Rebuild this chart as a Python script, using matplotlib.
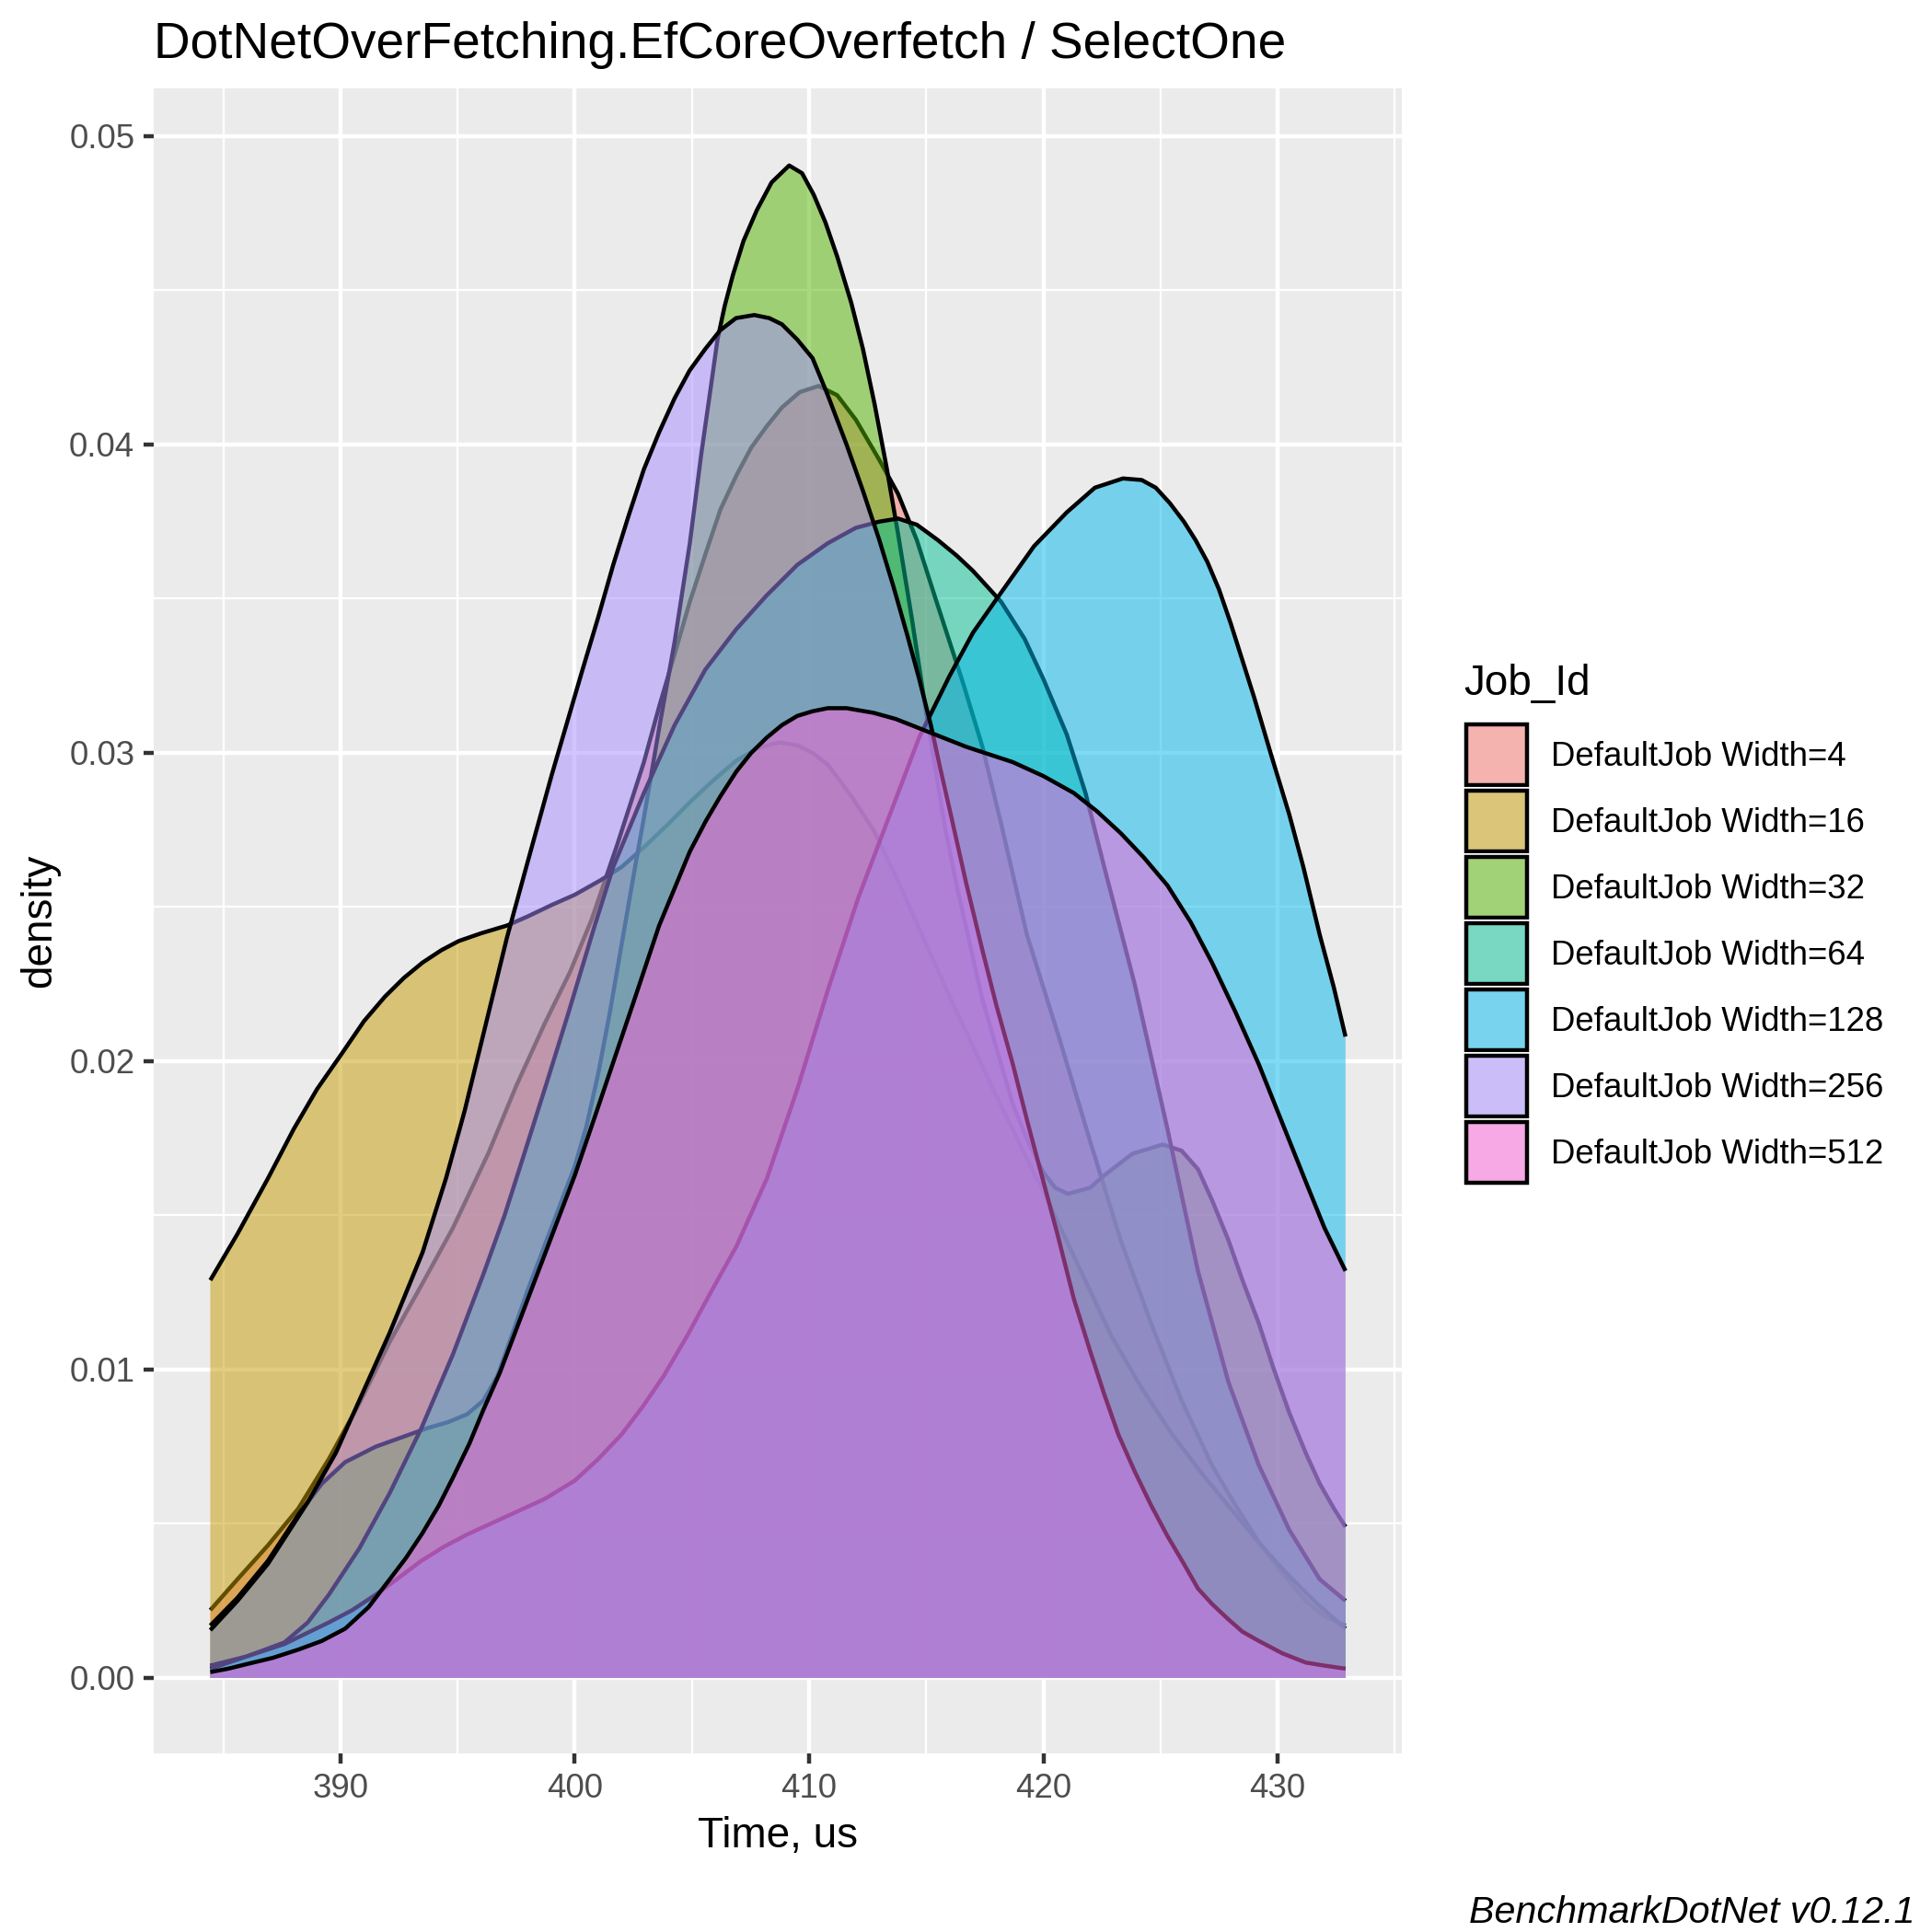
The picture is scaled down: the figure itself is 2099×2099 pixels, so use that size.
import matplotlib
matplotlib.use("Agg")
import matplotlib.pyplot as plt
from matplotlib.patches import Rectangle
from matplotlib.colors import to_rgba

plt.rcParams['font.family'] = ['Liberation Sans', 'DejaVu Sans']

# series names and ggplot hue colours
jobs = ["DefaultJob Width=4", "DefaultJob Width=16", "DefaultJob Width=32",
        "DefaultJob Width=64", "DefaultJob Width=128", "DefaultJob Width=256",
        "DefaultJob Width=512"]
colors = ["#F8766D", "#C49A00", "#53B400", "#00C094", "#00B6EB", "#A58AFF", "#FB61D7"]

# density curves (time in us, density)
w4_x = [384.44, 385.6, 386.9, 388.2, 389.5, 390.8, 392.1, 393.5, 394.8, 396.3, 397.5, 398.7,
        399.8, 400.72, 401.8, 402.95, 403.6, 404.26, 404.91, 405.6, 406.22, 406.9, 407.53, 408.2,
        408.84, 409.6, 410.41, 411.2, 412.0, 413.0, 413.8, 414.6, 415.4, 416.6, 417.4, 418.2,
        419.3, 420.7, 422.0, 423.3, 424.6, 425.9, 427.2, 428.2, 429.2, 430.2, 431.2, 432.0, 432.9]
w4_y = [0.0022, 0.0032, 0.0043, 0.0055, 0.0071, 0.0089, 0.0109, 0.0128, 0.0146, 0.0170, 0.0192, 0.0212,
        0.0229, 0.0246, 0.0270, 0.0297, 0.0315, 0.0332, 0.0349, 0.0365, 0.0379, 0.0390, 0.0399, 0.0406,
        0.0412, 0.0417, 0.0419, 0.0416, 0.0408, 0.0395, 0.0384, 0.0369, 0.0350, 0.0322, 0.0302, 0.0277,
        0.0241, 0.0207, 0.0174, 0.0142, 0.0115, 0.0090, 0.0069, 0.0056, 0.0044, 0.0034, 0.0025, 0.0020, 0.0017]

w16_x = [384.44, 385.6, 386.9, 388.0, 389.0, 390.1, 391.0, 391.9, 392.7, 393.5, 394.3, 395.05,
         396.0, 397.1, 398.0, 399.02, 400.0, 401.1, 402.0, 402.95, 404.0, 404.91, 405.9, 406.88,
         407.8, 408.71, 409.5, 410.15, 410.8, 411.8, 412.75, 413.7, 414.7, 416.0, 417.6, 419.0,
         420.3, 421.6, 422.9, 424.2, 425.5, 426.8, 428.1, 429.3, 430.5, 431.7, 432.9]
w16_y = [0.0129, 0.0144, 0.0162, 0.0178, 0.0191, 0.0203, 0.0213, 0.0221, 0.0227, 0.0232, 0.0236, 0.0239,
         0.02415, 0.0244, 0.0247, 0.02507, 0.0254, 0.02587, 0.0263, 0.02694, 0.0277, 0.0284, 0.0291, 0.02974,
         0.03015, 0.03034, 0.03025, 0.0300, 0.02962, 0.0286, 0.0275, 0.0260, 0.0243, 0.0221, 0.0195, 0.0173,
         0.0153, 0.0132, 0.0111, 0.0094, 0.0079, 0.0066, 0.0054, 0.0043, 0.0033, 0.0024, 0.0016]

w32_x = [384.44, 385.6, 386.9, 388.2, 389.2, 390.2, 391.5, 392.6, 393.7, 394.6, 395.4, 396.1,
         396.7, 397.4, 398.0, 398.7, 399.4, 400.0, 400.5, 401.0, 401.5, 402.0, 402.55, 402.95,
         403.6, 404.26, 404.91, 405.4, 405.85, 406.09, 406.4, 406.75, 407.2, 407.77, 408.4, 409.15,
         409.7, 410.2, 410.7, 411.2, 411.8, 412.3, 412.8, 413.3, 413.8, 414.4, 415.0, 415.8,
         416.3, 417.4, 418.7, 419.4, 420.0, 420.5, 421.05, 422.0, 422.6, 423.8, 425.1, 425.9,
         426.6, 427.2, 427.9, 428.5, 429.2, 429.8, 430.5, 431.2, 431.8, 432.4, 432.9]
w32_y = [0.0017, 0.0026, 0.0038, 0.0053, 0.0063, 0.0070, 0.0075, 0.0078, 0.0081, 0.0083, 0.00855, 0.0090,
         0.0098, 0.0113, 0.0126, 0.0140, 0.0154, 0.0166, 0.0179, 0.0196, 0.0216, 0.0238, 0.0262, 0.0279,
         0.0308, 0.0336, 0.0368, 0.0397, 0.0421, 0.0434, 0.0445, 0.0455, 0.0466, 0.0476, 0.0485, 0.04905,
         0.0488, 0.0481, 0.0472, 0.0461, 0.0446, 0.0431, 0.0413, 0.0393, 0.0371, 0.0343, 0.0313, 0.0276,
         0.0257, 0.0220, 0.0186, 0.0173, 0.0164, 0.0159, 0.0157, 0.0159, 0.0163, 0.0170, 0.0173, 0.0171,
         0.0165, 0.0155, 0.0142, 0.0129, 0.0115, 0.0101, 0.0086, 0.0073, 0.0063, 0.0055, 0.0049]

w64_x = [384.44, 386.0, 387.6, 388.6, 389.5, 390.8, 392.1, 393.45, 394.8, 396.1, 397.0, 397.8,
         398.8, 399.7, 400.85, 401.64, 402.95, 404.26, 405.57, 406.88, 408.18, 409.5, 410.8, 412.0,
         413.0, 413.8, 414.6, 415.5, 416.3, 417.0, 418.2, 419.2, 420.0, 421.0, 421.8, 422.6,
         423.9, 425.3, 426.6, 427.9, 429.2, 430.5, 431.8, 432.9]
w64_y = [0.0004, 0.0007, 0.00115, 0.0018, 0.0027, 0.0042, 0.0060, 0.0081, 0.0105, 0.0131, 0.0150, 0.0169,
         0.0193, 0.0215, 0.0244, 0.0263, 0.0287, 0.0309, 0.0327, 0.0340, 0.0351, 0.0361, 0.0368, 0.0373,
         0.0375, 0.0376, 0.0374, 0.0369, 0.0364, 0.0359, 0.0349, 0.0337, 0.0324, 0.0306, 0.0287, 0.0263,
         0.0225, 0.0178, 0.0132, 0.0096, 0.0069, 0.0048, 0.0032, 0.0025]

w128_x = [384.44, 386.0, 387.6, 389.5, 390.5, 391.5, 392.4, 393.45, 394.4, 395.4, 396.4, 397.4,
          398.7, 400.0, 401.0, 402.0, 402.9, 403.8, 404.8, 405.8, 406.9, 408.2, 409.5, 410.8,
          412.1, 413.4, 414.7, 416.0, 417.0, 418.2, 419.6, 421.0, 422.2, 423.4, 424.2, 424.8,
          425.4, 426.0, 426.5, 427.0, 427.5, 428.0, 428.5, 429.0, 429.7, 430.5, 431.1, 431.8,
          432.4, 432.9]
w128_y = [0.0003, 0.0007, 0.0011, 0.0018, 0.0022, 0.0027, 0.0032, 0.0038, 0.00425, 0.00465, 0.0050, 0.00535,
          0.0058, 0.0064, 0.0071, 0.0079, 0.0088, 0.0098, 0.0111, 0.0125, 0.0140, 0.0162, 0.0191, 0.0223,
          0.0253, 0.0279, 0.0305, 0.0325, 0.0339, 0.0352, 0.0367, 0.0378, 0.0386, 0.0389, 0.03885, 0.0386,
          0.0381, 0.0375, 0.0369, 0.0362, 0.0353, 0.0342, 0.0330, 0.0318, 0.0300, 0.0280, 0.0263, 0.0241,
          0.0224, 0.0208]

w256_x = [384.44, 385.6, 386.9, 388.6, 389.8, 390.8, 392.1, 393.5, 394.5, 395.3, 396.2, 397.1,
          398.0, 399.02, 400.33, 401.0, 401.64, 402.3, 402.95, 403.6, 404.26, 404.9, 405.57, 406.2,
          406.88, 407.66, 408.3, 408.84, 409.5, 410.15, 410.8, 411.6, 412.3, 413.0, 413.6, 414.2,
          414.7, 415.2, 415.6, 416.05, 416.7, 417.4, 418.0, 418.7, 419.3, 420.0, 420.6, 421.3,
          422.0, 422.6, 423.2, 423.9, 424.6, 425.3, 426.0, 426.6, 427.2, 427.9, 428.5, 429.2,
          430.2, 431.2, 432.0, 432.9]
w256_y = [0.00155, 0.0025, 0.0037, 0.0057, 0.0073, 0.0090, 0.0112, 0.0138, 0.0162, 0.0184, 0.0212, 0.0240,
          0.0265, 0.0293, 0.0327, 0.0344, 0.0361, 0.0377, 0.0392, 0.0404, 0.0415, 0.0424, 0.0431, 0.0437,
          0.0441, 0.0442, 0.0441, 0.0439, 0.0434, 0.0428, 0.0416, 0.0400, 0.0385, 0.0369, 0.0354, 0.0338,
          0.0324, 0.0309, 0.0295, 0.0280, 0.0258, 0.0236, 0.0218, 0.0199, 0.0181, 0.0161, 0.0144, 0.0123,
          0.0106, 0.0092, 0.0079, 0.0067, 0.0056, 0.0046, 0.0037, 0.0029, 0.0024, 0.0019, 0.0015, 0.0012,
          0.0008, 0.0005, 0.0004, 0.0003]

w512_x = [384.44, 385.2, 386.0, 387.1, 388.2, 389.2, 390.2, 391.2, 392.1, 392.8, 393.5, 394.2,
          394.8, 395.5, 396.1, 396.8, 397.4, 398.1, 398.7, 399.4, 400.0, 400.9, 401.7, 402.5,
          403.6, 404.91, 405.6, 406.22, 406.9, 407.53, 408.2, 408.84, 409.5, 410.15, 410.8, 411.6,
          412.75, 413.7, 414.7, 415.7, 416.7, 417.7, 418.7, 420.0, 421.3, 422.3, 423.3, 424.3,
          425.3, 426.3, 427.2, 428.2, 429.2, 430.2, 431.2, 432.0, 432.9]
w512_y = [0.00019, 0.0003, 0.00045, 0.00065, 0.00092, 0.0012, 0.0016, 0.0023, 0.0032, 0.0039, 0.0047, 0.0056,
          0.0065, 0.0076, 0.0087, 0.0099, 0.0111, 0.0125, 0.0137, 0.0151, 0.0163, 0.0183, 0.0201, 0.0219,
          0.0244, 0.0268, 0.0278, 0.0286, 0.0294, 0.0300, 0.0305, 0.0309, 0.0312, 0.03135, 0.03145, 0.03145,
          0.0313, 0.0311, 0.0308, 0.0305, 0.0302, 0.02995, 0.0297, 0.02925, 0.0287, 0.0281, 0.0274, 0.0266,
          0.0257, 0.0245, 0.0232, 0.0216, 0.0199, 0.0180, 0.0161, 0.0146, 0.0132]

series_x = [w4_x, w16_x, w32_x, w64_x, w128_x, w256_x, w512_x]
series_y = [w4_y, w16_y, w32_y, w64_y, w128_y, w256_y, w512_y]

W = 2099
fig = plt.figure(figsize=(W / 300, W / 300), dpi=300)

# panel placed in pixel units of the 2099 px canvas
left, right, top, bottom = 166.9, 1523.4, 95.7, 1905.4
ax = fig.add_axes([left / W, 1 - bottom / W, (right - left) / W, (bottom - top) / W])
ax.set_facecolor("#EBEBEB")
for s in ax.spines.values():
    s.set_visible(False)

# each group: fill then its upper outline, drawn in order like ggplot
for i in range(len(jobs)):
    ax.fill_between(series_x[i], series_y[i], 0, facecolor=colors[i], alpha=0.5,
                    linewidth=0, zorder=3 + 2 * i)
    ax.plot(series_x[i], series_y[i], color="black", linewidth=1.07,
            zorder=4 + 2 * i, solid_capstyle="butt", solid_joinstyle="round")

ax.set_xlim(382.02, 435.32)
ax.set_ylim(-0.00246, 0.05156)
ax.set_xticks([390, 400, 410, 420, 430])
ax.set_xticks([385, 395, 405, 415, 425, 435], minor=True)
ax.set_yticks([0.0, 0.01, 0.02, 0.03, 0.04, 0.05])
ax.set_yticklabels(["0.00", "0.01", "0.02", "0.03", "0.04", "0.05"])
ax.set_yticks([0.005, 0.015, 0.025, 0.035, 0.045], minor=True)
ax.set_axisbelow(True)
ax.grid(which="major", color="white", linewidth=1.07, zorder=1)
ax.grid(which="minor", color="white", linewidth=0.53, zorder=1)
ax.tick_params(which="major", length=2.75, width=1.07, color="#333333",
               labelsize=8.8, labelcolor="#4D4D4D", pad=2.2)
ax.tick_params(which="minor", length=0)

# titles
fig.text(left / W, 1 - 63.3 / W, "DotNetOverFetching.EfCoreOverfetch / SelectOne",
         fontsize=13.2, ha="left", va="baseline")
fig.text((left + right) / 2 / W, 1 - 2006.7 / W, "Time, us", fontsize=11,
         ha="center", va="baseline")
fig.text(43 / W, 1 - (top + bottom) / 2 / W, "density", fontsize=11, rotation=90,
         ha="center", va="center")
fig.text(2081 / W, 1 - 2089 / W, "BenchmarkDotNet v0.12.1", fontsize=9.9,
         style="italic", ha="right", va="baseline")

# legend, drawn like ggplot's guide
key_left, key_top, key = 1590, 783.7, 72
fig.text(key_left / W, 1 - 755 / W, "Job_Id", fontsize=11, ha="left", va="baseline")
inset = 2.95
for i, name in enumerate(jobs):
    y0 = key_top + i * key
    fig.add_artist(Rectangle((key_left / W, 1 - (y0 + key) / W), key / W, key / W,
                             transform=fig.transFigure, facecolor="#F2F2F2",
                             edgecolor="white", linewidth=0.5))
    fig.add_artist(Rectangle(((key_left + inset) / W, 1 - (y0 + key - inset) / W),
                             (key - 2 * inset) / W, (key - 2 * inset) / W,
                             transform=fig.transFigure, facecolor=to_rgba(colors[i], 0.5),
                             edgecolor="black", linewidth=1.07))
    fig.text((key_left + key + 23) / W, 1 - (y0 + key / 2 + 12) / W, name,
             fontsize=8.8, ha="left", va="baseline")

fig.savefig("out.png", dpi=300)
